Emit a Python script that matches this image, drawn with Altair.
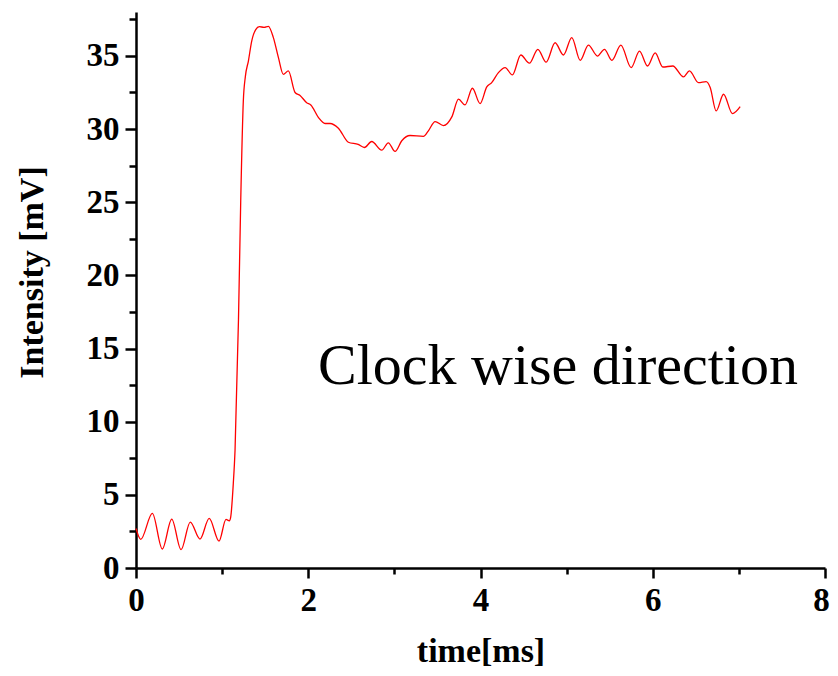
import altair as alt
import pandas as pd

# ---- data ----
time_ms = [0.0, 0.055, 0.19, 0.305, 0.415, 0.523, 0.63, 0.743, 0.85, 0.964,
           1.045, 1.084, 1.10, 1.13, 1.15, 1.19, 1.216, 1.246, 1.27, 1.305,
           1.343, 1.39, 1.432, 1.487, 1.537, 1.595, 1.653, 1.711, 1.769, 1.847,
           1.905, 1.982, 2.03, 2.117, 2.195, 2.253, 2.35, 2.466, 2.58, 2.652,
           2.737, 2.853, 2.93, 3.008, 3.086, 3.182, 3.337, 3.395, 3.473, 3.57,
           3.667, 3.745, 3.82, 3.906, 3.995, 4.073, 4.13, 4.208, 4.286, 4.37,
           4.468, 4.568, 4.666, 4.762, 4.866, 4.963, 5.06, 5.157, 5.253, 5.358,
           5.439, 5.525, 5.63, 5.749, 5.846, 5.939, 6.028, 6.117, 6.233, 6.357,
           6.426, 6.531, 6.62, 6.667, 6.736, 6.822, 6.925, 7.015]
intensity_mv = [2.7, 1.96, 3.73, 1.3, 3.34, 1.25, 3.14, 1.98, 3.39, 1.84,
                3.32, 3.23, 3.5, 5.8, 8.05, 17.0, 25.1, 31.9, 33.6, 34.65,
                36.0, 36.8, 37.0, 36.95, 37.02, 36.25, 34.9, 33.74, 33.97, 32.5,
                32.3, 31.8, 31.65, 30.8, 30.38, 30.38, 30.06, 29.1, 28.95, 28.74,
                29.15, 28.56, 29.06, 28.47, 29.2, 29.56, 29.5, 29.88, 30.51, 30.24,
                30.83, 32.04, 31.65, 32.79, 31.74, 32.88, 33.17, 33.86, 34.2, 33.7,
                35.06, 34.5, 35.45, 34.57, 35.9, 35.06, 36.25, 34.7, 35.74, 34.99,
                35.45, 34.7, 35.74, 34.2, 35.33, 34.31, 35.2, 34.24, 34.31, 33.56,
                33.97, 33.17, 33.24, 32.84, 31.24, 32.38, 31.06, 31.54]

x_tick_values = [0, 1, 2, 3, 4, 5, 6, 7, 8]
y_tick_values = [0, 2.5, 5, 7.5, 10, 12.5, 15, 17.5, 20, 22.5, 25, 27.5,
                 30, 32.5, 35, 37.5]

annotation_label = ["Clock wise direction"]
annotation_time = [2.113]
annotation_intensity = [12.6]

df = pd.DataFrame({"time": time_ms, "intensity": intensity_mv})
ann = pd.DataFrame({"x": annotation_time, "y": annotation_intensity,
                    "label": annotation_label})

FONT = "Liberation Serif"

x_scale = alt.Scale(domain=[0, 8], nice=False, zero=False)
y_scale = alt.Scale(domain=[0, 38], nice=False, zero=False)

common = dict(
    grid=False, domainColor="black", domainWidth=2.5, tickColor="black",
    tickWidth=2.5, labelFont=FONT, labelFontSize=33, labelFontWeight="bold",
    labelColor="black", labelPadding=6, titleFont=FONT, titleFontSize=34,
    titleFontWeight="bold", titleColor="black", labelFlush=False,
    labelOverlap=False, titleBaseline="alphabetic",
)

x_axis = alt.Axis(
    values=x_tick_values,
    labelExpr="datum.value % 2 === 0 ? datum.label : ''",
    tickSize={"condition": {"test": "datum.value % 2 === 0", "value": 10}, "value": 6},
    labelOffset={"condition": {"test": "datum.value === 8", "value": -4}, "value": 0},
    title="time[ms]", titleY=93, **common)

y_axis = alt.Axis(
    values=y_tick_values,
    labelExpr="datum.value % 5 === 0 ? datum.label : ''",
    tickSize={"condition": {"test": "datum.value % 5 === 0", "value": 11}, "value": 7},
    title="Intensity [mV]", titleAngle=-90, titleX=-94, titleY=260,
    titleAlign="center", **common)

line = alt.Chart(df).mark_line(
    color="#ff0000", strokeWidth=1.3, interpolate="monotone"
).encode(
    x=alt.X("time:Q", scale=x_scale, axis=x_axis),
    y=alt.Y("intensity:Q", scale=y_scale, axis=y_axis),
)

text = alt.Chart(ann).mark_text(
    align="left", baseline="alphabetic", font=FONT, fontSize=58, color="black"
).encode(
    x=alt.X("x:Q", scale=x_scale, axis=x_axis),
    y=alt.Y("y:Q", scale=y_scale, axis=y_axis),
    text="label:N",
)

chart = alt.layer(line, text).properties(
    width=689, height=556,
    autosize=alt.AutoSizeParams(type="none"),
    padding={"left": 128, "top": 4, "right": 5, "bottom": 100},
    background="white",
).configure_view(strokeOpacity=0)

chart.save("out.html", embed_options={"renderer": "svg", "actions": False})
